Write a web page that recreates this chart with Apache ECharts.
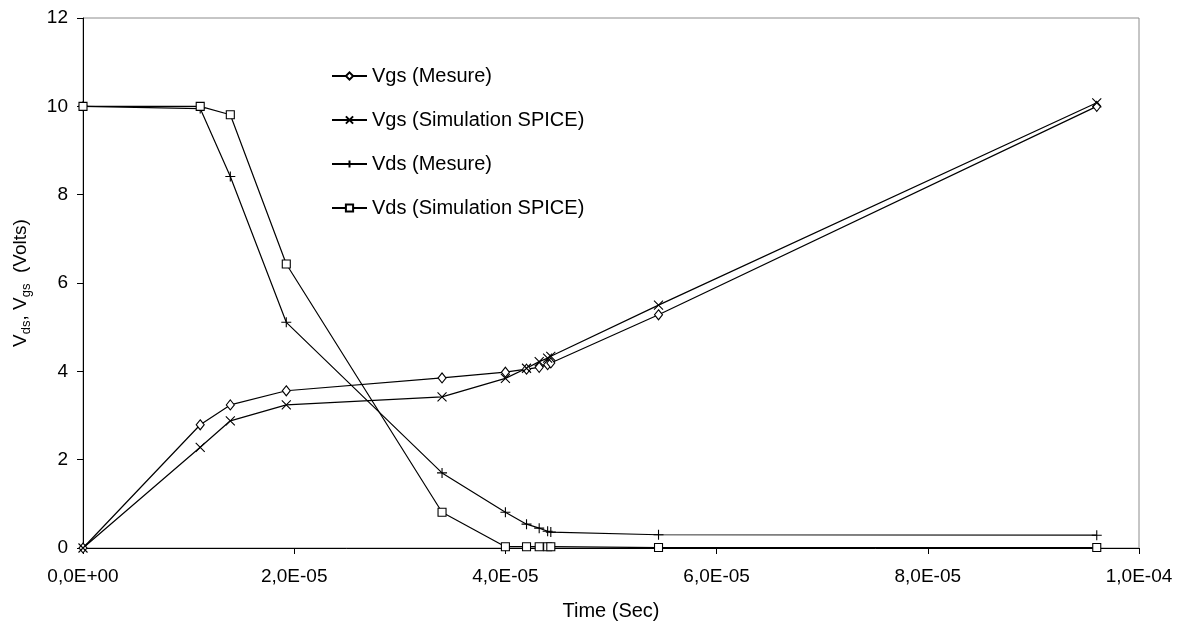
<!DOCTYPE html>
<html>
<head>
<meta charset="utf-8">
<script src="https://cdn.jsdelivr.net/npm/echarts@6/dist/echarts.min.js"></script>
<style>
html,body{margin:0;padding:0;background:#fff;}
#chart{width:1184px;height:622px;}
</style>
</head>
<body>
<div id="chart"></div>
<script>
// Time (s)
const time = [0, 1.11e-5, 1.395e-5, 1.925e-5, 3.40e-5, 4.0e-5, 4.2e-5, 4.32e-5, 4.4e-5, 4.43e-5, 5.45e-5, 9.6e-5];
// Series values (Volts)
const vgsMesure = [0, 2.79, 3.24, 3.56, 3.85, 3.98, 4.05, 4.09, 4.15, 4.19, 5.28, 10.0];
const vgsSpice  = [0, 2.28, 2.88, 3.24, 3.42, 3.84, 4.07, 4.22, 4.30, 4.34, 5.50, 10.08];
const vdsMesure = [10, 9.95, 8.41, 5.11, 1.70, 0.81, 0.54, 0.45, 0.38, 0.36, 0.30, 0.29];
const vdsSpice  = [10, 10.0, 9.81, 6.43, 0.81, 0.03, 0.03, 0.03, 0.03, 0.03, 0.01, 0.01];
const seriesNames = ['Vgs (Mesure)', 'Vgs (Simulation SPICE)', 'Vds (Mesure)', 'Vds (Simulation SPICE)'];

const FONT = '"Liberation Sans", Arial, sans-serif';
function pair(ys){ return time.map((t,i)=>[t, ys[i]]); }
function fmtX(v){
  if (v === 0) return '0,0E+00';
  const s = v.toExponential(1);
  const m = s.split('e');
  let e = parseInt(m[1], 10);
  const sign = e < 0 ? '-' : '+';
  e = Math.abs(e);
  return m[0].replace('.', ',') + 'E' + sign + (e < 10 ? '0' + e : '' + e);
}
const markers = [
  {symbol: 'diamond', size: [8, 10]},
  {symbol: 'path://M0,0L10,10M10,0L0,10', size: 9},
  {symbol: 'path://M5,0L5,10M0,5L10,5', size: 10},
  {symbol: 'rect', size: 8}
];
const data = [vgsMesure, vgsSpice, vdsMesure, vdsSpice];

const chart = echarts.init(document.getElementById('chart'), null, {renderer: 'canvas'});
chart.setOption({
  animation: false,
  backgroundColor: '#fff',
  grid: {left: 83, right: 45, top: 18, bottom: 74, containLabel: false, outerBoundsMode: 'none',
         show: true, borderColor: '#8c8c8c', borderWidth: 1},
  legend: {
    orient: 'vertical', left: 326, top: 61, itemGap: 24,
    itemWidth: 35, itemHeight: 9,
    textStyle: {fontFamily: FONT, fontSize: 20, color: '#000'},
    data: seriesNames
  },
  xAxis: {
    type: 'value', min: 0, max: 1e-4, interval: 2e-5,
    name: 'Time (Sec)', nameLocation: 'middle', nameGap: 53,
    nameTextStyle: {fontFamily: FONT, fontSize: 20, color: '#000'},
    axisLine: {show: true, lineStyle: {color: '#000', width: 1}},
    axisTick: {show: true, inside: false, length: 6, lineStyle: {color: '#000'}},
    axisLabel: {fontFamily: FONT, fontSize: 19, color: '#000', margin: 19, formatter: fmtX},
    splitLine: {show: false}
  },
  yAxis: {
    type: 'value', min: 0, max: 12, interval: 2,
    name: '{a|V}{s|ds}{a|, V}{s|gs}{a|  (Volts)}', nameLocation: 'middle', nameGap: 53, nameRotate: 90,
    nameTextStyle: {
      fontFamily: FONT, fontSize: 19, color: '#000',
      rich: {
        a: {fontFamily: FONT, fontSize: 19, color: '#000', lineHeight: 24, verticalAlign: 'bottom'},
        s: {fontFamily: FONT, fontSize: 13, color: '#000', lineHeight: 24, verticalAlign: 'bottom', padding: [0, 0, -3, 0]}
      }
    },
    axisLine: {show: true, lineStyle: {color: '#000', width: 1}},
    axisTick: {show: true, inside: false, length: 6, lineStyle: {color: '#000'}},
    axisLabel: {fontFamily: FONT, fontSize: 19, color: '#000', margin: 15},
    splitLine: {show: false}
  },
  series: seriesNames.map((n, i) => ({
    name: n, type: 'line', data: pair(data[i]),
    symbol: markers[i].symbol, symbolSize: markers[i].size, showSymbol: true,
    lineStyle: {color: '#000', width: 1.2},
    itemStyle: {color: '#fff', borderColor: '#000', borderWidth: 1.1},
    emphasis: {disabled: true}
  }))
});
</script>
</body>
</html>
